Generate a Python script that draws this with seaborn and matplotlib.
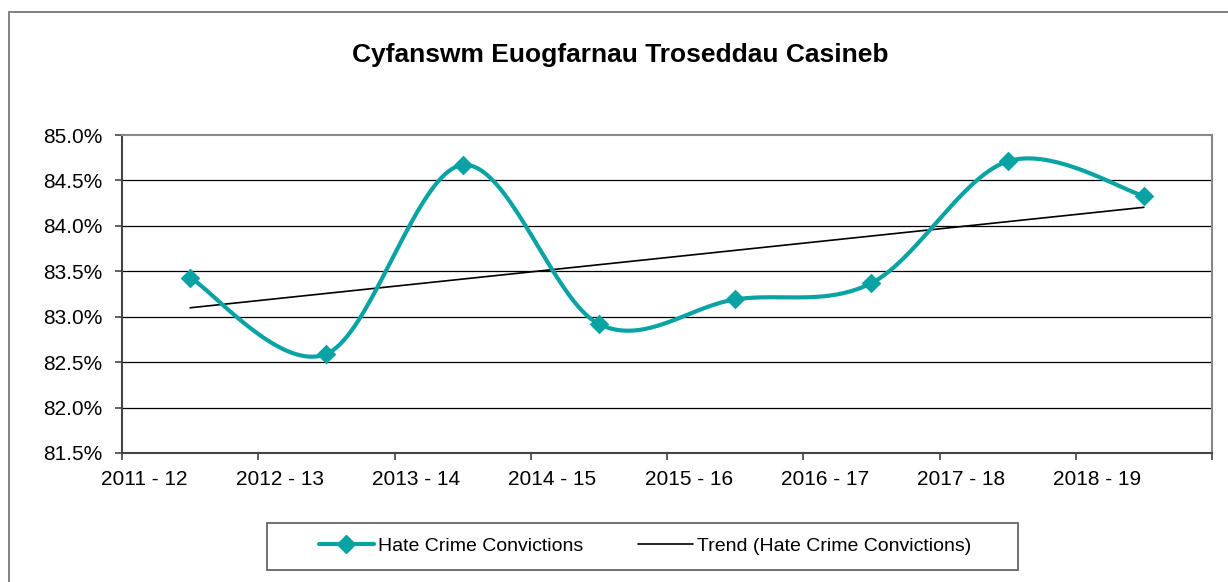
import numpy as np
import pandas as pd
import matplotlib
matplotlib.use("Agg")
import matplotlib.pyplot as plt
from matplotlib.lines import Line2D
from matplotlib.patches import Rectangle
import seaborn as sns

years = ["2011 - 12", "2012 - 13", "2013 - 14", "2014 - 15",
         "2015 - 16", "2016 - 17", "2017 - 18", "2018 - 19"]
convictions = [83.43, 82.59, 84.67, 82.92, 83.19, 83.37, 84.71, 84.33]
y_ticks = [81.5, 82.0, 82.5, 83.0, 83.5, 84.0, 84.5, 85.0]

TEAL = "#0AA3A3"


def smooth_curve(x, y, n=40):
    # Excel-style smoothed line (Catmull-Rom through the points)
    x = np.asarray(x, float)
    y = np.asarray(y, float)
    px = np.concatenate([[x[0]], x, [x[-1]]])
    py = np.concatenate([[y[0]], y, [y[-1]]])
    xs, ys = [], []
    t = np.linspace(0, 1, n)
    for i in range(1, len(px) - 2):
        p0 = np.array([px[i], py[i]])
        p3 = np.array([px[i + 1], py[i + 1]])
        p1 = p0 + (np.array([px[i + 1], py[i + 1]]) - np.array([px[i - 1], py[i - 1]])) / 6
        p2 = p3 - (np.array([px[i + 2], py[i + 2]]) - np.array([px[i], py[i]])) / 6
        b = ((1 - t) ** 3)[:, None] * p0 + (3 * (1 - t) ** 2 * t)[:, None] * p1 \
            + (3 * (1 - t) * t ** 2)[:, None] * p2 + (t ** 3)[:, None] * p3
        xs.extend(b[:, 0])
        ys.extend(b[:, 1])
    return np.array(xs), np.array(ys)


sns.set_style("white")
plt.rcParams['font.family'] = ['Liberation Sans', 'DejaVu Sans']
plt.rcParams['text.color'] = 'black'
plt.rcParams['xtick.color'] = 'black'
plt.rcParams['ytick.color'] = 'black'

df = pd.DataFrame({'year': years, 'value': convictions})
df['pos'] = np.arange(len(years)) + 0.5

sx, sy = smooth_curve(df['pos'], df['value'])
smooth_df = pd.DataFrame({'pos': sx, 'value': sy})

coef = np.polyfit(df['pos'], df['value'], 1)
df['trend'] = np.polyval(coef, df['pos'])

fig = plt.figure(figsize=(12.28, 5.82), dpi=100)
ax = fig.add_axes([122 / 1228, 1 - 453 / 582, (1212 - 122) / 1228, (453 - 135) / 582])

for yv in y_ticks[1:-1]:
    ax.axhline(yv, color="black", lw=0.9, zorder=0)

sns.lineplot(data=df, x='pos', y='trend', color="black", lw=1.2, ax=ax, zorder=2)
sns.lineplot(data=smooth_df, x='pos', y='value', color=TEAL, lw=3, ax=ax, zorder=3,
             sort=False, estimator=None)
sns.scatterplot(data=df, x='pos', y='value', color=TEAL, marker='D', s=100,
                edgecolor=TEAL, linewidth=0, ax=ax, zorder=4)

ax.set_xlim(0, len(years))
ax.set_ylim(81.5, 85.0)
ax.set_yticks(y_ticks)
ax.set_yticklabels([f"{v:.1f}%" for v in y_ticks], fontsize=15)
ax.set_xticks(np.arange(len(years) + 1), minor=True)
ax.set_xticks(np.arange(len(years)) + 0.16)
ax.set_xticklabels(years, fontsize=15)
ax.tick_params(axis='x', which='major', bottom=True, length=0, pad=12)
ax.tick_params(axis='x', which='minor', bottom=True, length=5, width=1.2,
               color="#444444", direction='out')
ax.tick_params(axis='y', left=True, length=5, width=1.2, color="#444444",
               direction='out', pad=9)
ax.set_xlabel("")
ax.set_ylabel("")

for side in ['top', 'right']:
    ax.spines[side].set_color("#888888")
    ax.spines[side].set_linewidth(1.5)
for side in ['left', 'bottom']:
    ax.spines[side].set_color("#444444")
    ax.spines[side].set_linewidth(1.5)

fig.text(0.505, 1 - 55 / 582, "Cyfanswm Euogfarnau Troseddau Casineb",
         ha='center', va='center', fontsize=19, fontweight='bold', color='black')

# outer chart border
fig.patches.append(Rectangle((9 / 1228, -0.05), 1.2, 1 - 12 / 582 + 0.05,
                             transform=fig.transFigure, fill=False,
                             edgecolor="#777777", lw=1.3))

# legend box
fig.patches.append(Rectangle((267 / 1228, 1 - 570 / 582), (1018 - 267) / 1228, 47 / 582,
                             transform=fig.transFigure, fill=False,
                             edgecolor="#666666", lw=1.3))

handles = [Line2D([0], [0], color=TEAL, lw=3, marker='D', markersize=9),
           Line2D([0], [0], color="black", lw=1.2)]
leg = fig.legend(handles, ["Hate Crime Convictions", "Trend (Hate Crime Convictions)"],
                 loc='center', bbox_to_anchor=(645 / 1228, 1 - 546 / 582), ncol=2,
                 fontsize=14, frameon=False, handlelength=2.8,
                 handletextpad=0.2, columnspacing=2.85)

fig.savefig("out.png", dpi=100)
